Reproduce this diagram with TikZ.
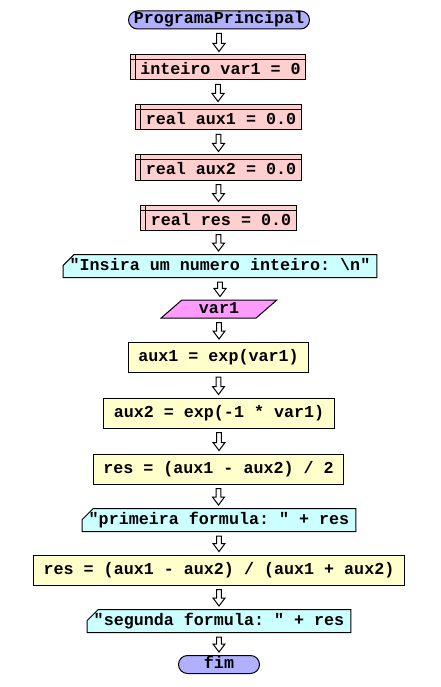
\documentclass[tikz,border=0pt]{standalone}
\usepackage{fontspec}
\setmonofont{Liberation Mono}
\usetikzlibrary{shapes.misc,shapes.geometric,calc}

\definecolor{termfill}{RGB}{176,176,255}
\definecolor{declfill}{RGB}{255,206,206}
\definecolor{outfill}{RGB}{204,255,255}
\definecolor{infill}{RGB}{255,155,255}
\definecolor{procfill}{RGB}{255,255,204}

\tikzset{
  base/.style={draw=black, line width=1pt,
    font=\fontsize{16.7}{20}\selectfont\ttfamily\bfseries,
    text height=10.5pt, text depth=2.5pt, inner ysep=0pt},
  terminal/.style={base, rounded rectangle, fill=termfill,
    minimum height=18pt, minimum width=86pt, inner xsep=2.5pt,
    text height=10pt, text depth=3pt},
  declbox/.style={base, rectangle, fill=declfill,
    text height=20pt, text depth=5pt, inner xsep=5pt,
    path picture={\draw[line width=1pt]
      ([yshift=-5pt]path picture bounding box.north west) --
      ([yshift=-5pt]path picture bounding box.north east)
      ([xshift=5pt]path picture bounding box.north west) --
      ([xshift=5pt]path picture bounding box.south west);}},
  outbox/.style={base, chamfered rectangle, chamfered rectangle corners=north west,
    chamfered rectangle xsep=6pt, chamfered rectangle ysep=5pt,
    fill=outfill, minimum height=18pt, inner xsep=0.5pt},
  inbox/.style={base, trapezium, trapezium left angle=45, trapezium right angle=135,
    trapezium stretches=true, fill=infill, minimum height=18pt, minimum width=116pt},
  procbox/.style={base, rectangle, fill=procfill, minimum height=30pt, inner xsep=10pt},
  flowarrow/.style={draw=black, fill=white, line width=1pt, line join=miter}
}

% hollow block arrow from the bottom of #1 to the top of #2
\newcommand\flowto[2]{%
  \draw[flowarrow] let \p1=(#1.south), \p2=(#2.north) in
    (\x1-2.3pt,\y1-4pt) -- (\x1+2.3pt,\y1-4pt) -- (\x1+2.3pt,\y2+11pt) --
    (\x1+6pt,\y2+11pt) -- (\x1,\y2+3pt) -- (\x1-6pt,\y2+11pt) --
    (\x1-2.3pt,\y2+11pt) -- cycle;}

\begin{document}
\begin{tikzpicture}[x=1pt,y=-1pt]
  \useasboundingbox (0,0) rectangle (440,687);

  \node[terminal] (inicio) at (219,20)    {ProgramaPrincipal};
  \node[declbox]  (d1)     at (218,67.5)  {\hspace*{5pt}inteiro var1 = 0};
  \node[declbox]  (d2)     at (218.5,117.5) {\hspace*{5pt}real aux1 = 0.0};
  \node[declbox]  (d3)     at (218.5,167.5) {\hspace*{5pt}real aux2 = 0.0};
  \node[declbox]  (d4)     at (218.5,217.5) {\hspace*{5pt}real res = 0.0};
  \node[outbox]   (o1)     at (220,266)   {"Insira um numero inteiro: \textbackslash n"};
  \node[inbox]    (i1)     at (219,309)   {var1};
  \node[procbox]  (p1)     at (218.5,357.5) {aux1 = exp(var1)};
  \node[procbox]  (p2)     at (219,413)   {aux2 = exp(-1 * var1)};
  \node[procbox]  (p3)     at (218.5,469) {res = (aux1 - aux2) / 2};
  \node[outbox]   (o2)     at (219,520)   {"primeira formula: " + res};
  \node[procbox]  (p4)     at (219,570)   {res = (aux1 - aux2) / (aux1 + aux2)};
  \node[outbox]   (o3)     at (219,621)   {"segunda formula: " + res};
  \node[terminal] (fim)    at (219,664.5) {fim};

  \flowto{inicio}{d1}
  \flowto{d1}{d2}
  \flowto{d2}{d3}
  \flowto{d3}{d4}
  \flowto{d4}{o1}
  \flowto{o1}{i1}
  \flowto{i1}{p1}
  \flowto{p1}{p2}
  \flowto{p2}{p3}
  \flowto{p3}{o2}
  \flowto{o2}{p4}
  \flowto{p4}{o3}
  \flowto{o3}{fim}
\end{tikzpicture}
\end{document}
